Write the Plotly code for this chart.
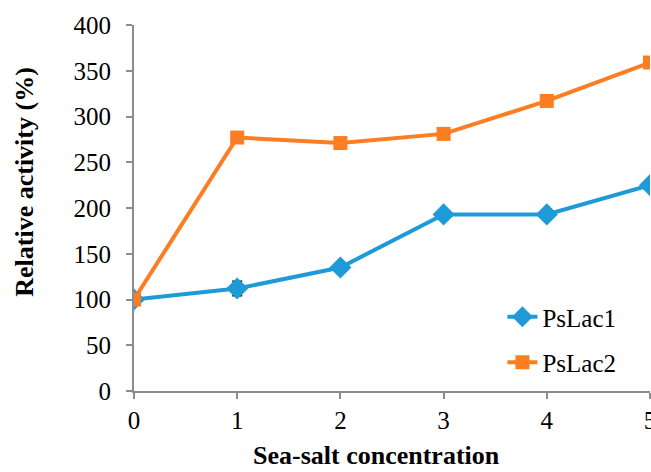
import plotly.graph_objects as go

x_vals = [0, 1, 2, 3, 4, 5]
pslac1 = [100, 112, 135, 193, 193, 225]
pslac1_err = [2, 8, 5, 3, 3, 3]
pslac2 = [100, 277, 271, 281, 317, 359]
pslac2_err = [2, 3, 3, 3, 3, 3]
y_ticks = [0, 50, 100, 150, 200, 250, 300, 350, 400]

blue = "#1E9BD7"
orange = "#FD7D23"
font_family = "Liberation Serif"
fs = 25

fig = go.Figure()
fig.add_trace(go.Scatter(
    x=x_vals, y=pslac1, name="PsLac1", mode="lines+markers",
    line=dict(color=blue, width=4),
    marker=dict(symbol="diamond", size=17, color=blue),
    error_y=dict(type="data", array=pslac1_err, color="black", thickness=1.5, width=5),
    legendgroup="g1",
))
fig.add_trace(go.Scatter(
    x=x_vals, y=pslac2, name="PsLac2", mode="lines+markers",
    line=dict(color=orange, width=4),
    marker=dict(symbol="square", size=14, color=orange),
    error_y=dict(type="data", array=pslac2_err, color="black", thickness=1.5, width=5),
    legendgroup="g2",
))

axis_common = dict(
    showline=True, linecolor="#8C8C8C", linewidth=2,
    ticks="outside", tickcolor="#8C8C8C", ticklen=6, tickwidth=2,
    showgrid=False, zeroline=False, automargin=False,
    tickfont=dict(family=font_family, size=fs, color="black"),
)

fig.update_layout(
    width=651, height=472,
    margin=dict(l=134, r=1, t=25, b=81),
    plot_bgcolor="white", paper_bgcolor="white",
    font=dict(family=font_family, color="black"),
    xaxis=dict(range=[0, 5], tickvals=x_vals, ticklabeloverflow="allow", **axis_common),
    yaxis=dict(range=[0, 400], tickvals=y_ticks, ticklabelstandoff=10, **axis_common),
    showlegend=True,
    legend=dict(x=0.714, y=0.265, xanchor="left", yanchor="top",
                font=dict(family=font_family, size=fs), bgcolor="rgba(0,0,0,0)",
                traceorder="grouped", tracegroupgap=10),
    annotations=[
        dict(text="<b>Sea-salt concentration</b>", xref="paper", yref="paper",
             x=0.469, y=-0.175, xanchor="center", yanchor="middle", showarrow=False,
             borderpad=0, font=dict(family=font_family, size=26, color="black")),
        dict(text="<b>Relative activity (%)</b>", xref="paper", yref="paper",
             x=-0.211, y=0.572, xanchor="center", yanchor="middle", showarrow=False,
             textangle=-90, font=dict(family=font_family, size=26, color="black")),
    ],
)

fig.write_html("out.html", config={"displayModeBar": False},
               post_script="document.body.style.margin='0';document.body.style.padding='0';")
